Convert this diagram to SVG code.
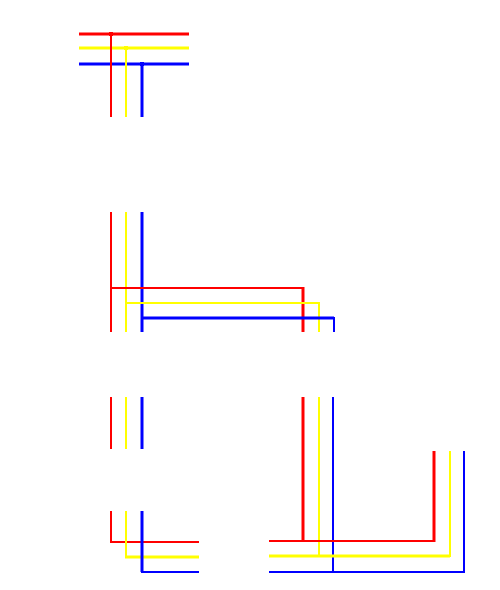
<svg xmlns="http://www.w3.org/2000/svg" width="500" height="590" viewBox="0 0 500 590">
<style>
line{fill:none}
.r{stroke:#ff0000}
.y{stroke:#ffff00}
.b{stroke:#0000ff}
.t{stroke-width:3}
.n{stroke-width:2}
</style>
<rect width="500" height="590" fill="#ffffff"/>
<g id="connectors">
<!-- top -->
<line class="r t" x1="79" y1="34" x2="189" y2="34"/>
<line class="y t" x1="79" y1="48" x2="189" y2="48"/>
<line class="b t" x1="79" y1="64" x2="189" y2="64"/>
<line class="r n" x1="111" y1="32" x2="111" y2="117"/>
<line class="y n" x1="126" y1="46" x2="126" y2="117"/>
<line class="b t" x1="142" y1="62" x2="142" y2="117"/>
<rect x="109" y="32" width="4" height="4" fill="#ff0000"/>
<rect x="124" y="46" width="4" height="4" fill="#ffff00"/>
<rect x="140" y="62" width="4" height="4" fill="#0000ff"/>
<!-- middle -->
<line class="r n" x1="111" y1="212" x2="111" y2="332"/>
<line class="y n" x1="126" y1="212" x2="126" y2="332"/>
<line class="b t" x1="142" y1="212" x2="142" y2="332"/>
<polyline class="r n" points="111,288 303,288" fill="none"/>
<line class="r t" x1="303" y1="287" x2="303" y2="332"/>
<polyline class="y n" points="126,303 319,303 319,332" fill="none"/>
<line class="b t" x1="142" y1="318" x2="334" y2="318"/>
<line class="b n" x1="334" y1="317" x2="334" y2="332"/>
<!-- lower left -->
<line class="r n" x1="111" y1="397" x2="111" y2="449"/>
<line class="y n" x1="126" y1="397" x2="126" y2="449"/>
<line class="b t" x1="142" y1="397" x2="142" y2="449"/>
<polyline class="r n" points="111,511 111,542 199,542" fill="none"/>
<line class="y n" x1="126" y1="511" x2="126" y2="557"/>
<line class="y t" x1="125" y1="557" x2="199" y2="557"/>
<line class="b t" x1="142" y1="511" x2="142" y2="572"/>
<line class="b n" x1="141" y1="572" x2="199" y2="572"/>
<!-- lower right -->
<line class="r t" x1="303" y1="397" x2="303" y2="541"/>
<line class="y n" x1="319" y1="397" x2="319" y2="556"/>
<line class="b n" x1="333" y1="397" x2="333" y2="572"/>
<line class="r n" x1="269" y1="541" x2="434" y2="541"/>
<line class="r t" x1="434" y1="451" x2="434" y2="542"/>
<line class="y t" x1="269" y1="556" x2="450" y2="556"/>
<line class="y n" x1="450" y1="451" x2="450" y2="557"/>
<polyline class="b n" points="269,572 464,572 464,451" fill="none"/>
</g>
</svg>
